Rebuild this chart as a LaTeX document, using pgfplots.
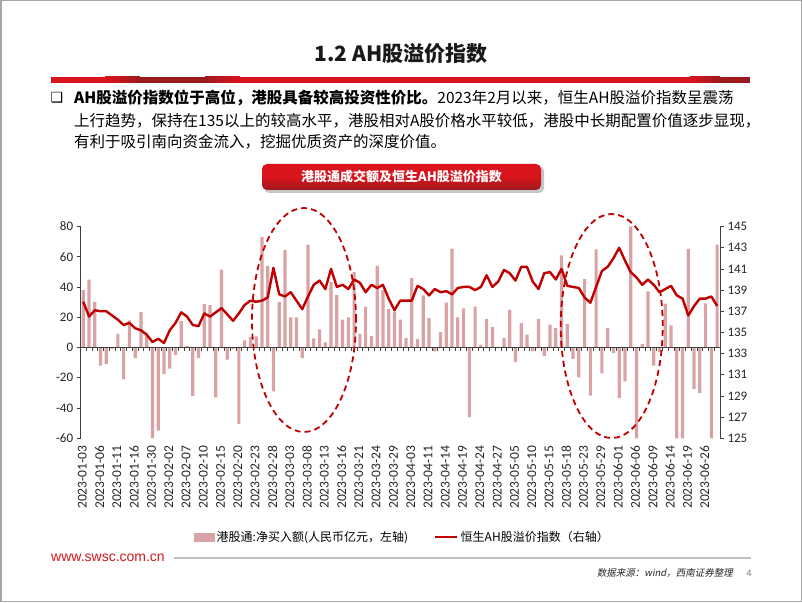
\documentclass[border=0pt]{standalone}
\usepackage{fontspec}
\usepackage{pgfplots}
\pgfplotsset{compat=1.18}
\usepackage{pgfplotstable}
\setmainfont{Carlito}
\newfontfamily\cjk{Noto Sans CJK SC}
\newfontfamily\cjkit{Noto Sans CJK SC}[FakeSlant=0.2]
\newfontfamily\dejavu{DejaVu Sans}
\newfontfamily\arial{Liberation Sans}
\definecolor{barcol}{HTML}{D9A3A6}
\definecolor{linecol}{HTML}{C00000}
\definecolor{redA}{HTML}{D9141C}
\definecolor{redD}{HTML}{9C1A1E}
\definecolor{axcol}{HTML}{404040}

\pgfplotstableread{
i bar line
0 38 137.9
1 45 136.5
2 30 137.1
3 -12 137.0
4 -11 137.0
5 -1 136.6
6 9 136.2
7 -21 135.7
8 18 135.9
9 -7 135.4
10 23.5 135.2
11 8 134.8
12 -60 134.1
13 -55 134.4
14 -17.5 134.0
15 -14 135.2
16 -5 135.9
17 17.5 136.9
18 1 136.5
19 -32 135.7
20 -7 135.6
21 28.8 136.8
22 28 136.5
23 -33 136.9
24 51.5 137.3
25 -8 136.7
26 -1 136.1
27 -50.5 136.8
28 4.8 137.6
29 7 138.0
30 7.4 137.9
31 73 138.0
32 54 138.3
33 -29 141.1
34 30 138.6
35 64.5 138.4
36 20 138.8
37 20 138.0
38 -7 137.2
39 68 138.4
40 6 139.5
41 12 139.9
42 3.5 139.1
43 43.4 141.0
44 34.6 139.3
45 18.5 139.5
46 20 139.1
47 50 140.0
48 9 139.7
49 27 138.8
50 7.5 139.5
51 54 139.2
52 38 139.5
53 25.5 138.2
54 23.8 137.1
55 18.5 138.0
56 6.2 138.0
57 46 138.0
58 5.8 139.4
59 34.5 139.1
60 19.5 138.5
61 -2.5 139.1
62 10.2 138.8
63 29.7 138.9
64 65.5 138.6
65 20 139.2
66 26 139.3
67 -46 139.3
68 27 139.0
69 2 139.3
70 19 140.4
71 13.5 139.3
72 0.5 139.8
73 6.2 140.9
74 25 140.6
75 -9.5 139.9
76 16.2 141.2
77 8.5 141.2
78 -2.3 139.8
79 19 139.1
80 -5.5 140.6
81 15.2 140.7
82 13 140.0
83 61 141.0
84 15.7 139.4
85 -7.5 139.3
86 -19.7 139.2
87 45.3 138.3
88 -31.8 137.8
89 65 139.3
90 -17 140.8
91 12.8 141.2
92 -3.7 142.0
93 -33.5 143.0
94 -22.4 141.8
95 80.2 140.7
96 -60 140.2
97 2.5 139.5
98 37.2 140.0
99 -12 139.5
100 -3 138.8
101 29 139.1
102 14.7 139.4
103 -60 138.5
104 -60 138.2
105 65.2 136.6
106 -27.5 137.5
107 -30 138.2
108 29.2 138.2
109 -60 138.4
110 68 137.5
}\datatable

\pgfplotsset{
  common/.style={
    at={(80.7pt,163.7pt)}, anchor=south west,
    scale only axis, width=639.3pt, height=211.7pt,
    xmin=-0.45, xmax=110.5,
    /pgf/number format/assume math mode=true,
    ticklabel style={font=\fontsize{13}{15}\selectfont, text=black!85},
    axis line style={axcol, line width=0.8pt},
    tick style={axcol, line width=0.8pt},
    major tick length=4pt,
  }
}

\begin{document}
\begin{tikzpicture}
\path[use as bounding box] (0pt,0pt) rectangle (802pt,602pt);
\fill[white] (0pt,0pt) rectangle (802pt,602pt);
\draw[gray!70, line width=1.5pt] (0.75pt,0.75pt) rectangle (801.25pt,601.25pt);

% title
\node[font=\cjk\bfseries\fontsize{21}{24}\selectfont, text=black!90] at (401pt,548pt) {1.2 AH股溢价指数};
% red bar
\fill[redA] (51pt,519pt) rectangle (750pt,525pt);
\shade[left color=redA, right color=redD] (105pt,519pt) rectangle (140pt,525pt);
\fill[redD] (140pt,519pt) rectangle (205pt,525pt);
\shade[left color=redD, right color=redA] (205pt,519pt) rectangle (240pt,525pt);
\shade[left color=redA, right color=redD] (690pt,519pt) rectangle (720pt,525pt);
\fill[redD] (720pt,519pt) rectangle (750pt,525pt);

% bullet text
\node[font=\dejavu\fontsize{14}{16}\selectfont, anchor=center] at (57pt,504pt) {❑};
\node[anchor=west, inner sep=0pt, font=\cjk\fontsize{15.5}{18}\selectfont] at (74pt,504pt) {{\bfseries AH股溢价指数位于高位，港股具备较高投资性价比。}2023年2月以来，恒生AH股溢价指数呈震荡};
\node[anchor=west, inner sep=0pt, font=\cjk\fontsize{15.5}{18}\selectfont] at (74pt,481pt) {上行趋势，保持在135以上的较高水平，港股相对A股价格水平较低，港股中长期配置价值逐步显现，};
\node[anchor=west, inner sep=0pt, font=\cjk\fontsize{15.5}{18}\selectfont] at (74pt,460pt) {有利于吸引南向资金流入，挖掘优质资产的深度价值。};

% chart title box
\fill[gray!45, rounded corners=5pt] (264pt,409pt) rectangle (544pt,436pt);
\shade[top color=redA, bottom color=redD, middle color=redA, rounded corners=5pt] (262pt,412pt) rectangle (541pt,438pt);
\node[font=\cjk\bfseries\fontsize{13}{15}\selectfont, text=white] at (401.5pt,425pt) {港股通成交额及恒生AH股溢价指数};

% bars axis
\begin{axis}[common,
  ymin=-60, ymax=80, ytick={-60,-40,...,80},
  axis y line*=left, axis x line*=bottom,
  x axis line style={draw=none},
  xtick={0,3,...,108},
  xtick style={draw=none},
  xticklabels={2023-01-03,2023-01-06,2023-01-11,2023-01-16,2023-01-30,2023-02-02,2023-02-07,2023-02-10,2023-02-15,2023-02-20,2023-02-23,2023-02-28,2023-03-03,2023-03-08,2023-03-13,2023-03-16,2023-03-21,2023-03-24,2023-03-29,2023-04-03,2023-04-11,2023-04-14,2023-04-19,2023-04-24,2023-04-27,2023-05-05,2023-05-10,2023-05-15,2023-05-18,2023-05-23,2023-05-29,2023-06-01,2023-06-06,2023-06-09,2023-06-14,2023-06-19,2023-06-26},
  xticklabel style={rotate=90, anchor=east, font=\fontsize{13.5}{15}\selectfont, yshift=1pt},
  ytick align=outside,
  ybar, bar width=3.2pt,
]
\addplot[fill=barcol, draw=none] table[x=i, y=bar] {\datatable};
\end{axis}

% zero line axis
\begin{axis}[common,
  ymin=-60, ymax=80,
  axis y line=none, axis x line=middle,
  x axis line style={-},
  xtick={0.5,1.5,...,109.5}, xticklabels={},
  xtick align=outside, major tick length=3pt,
  ytick=\empty,
]
\end{axis}

% line axis
\begin{axis}[common,
  ymin=125, ymax=145, ytick={125,127,...,145},
  axis y line*=right, axis x line=none,
  ytick align=outside,
  legend style={at={(0.5034,-0.466)}, anchor=center, draw=none, fill=none,
    legend columns=2, font=\cjk\fontsize{12}{14}\selectfont,
    nodes={inner sep=2pt},
    /tikz/every even column/.append style={column sep=24pt}},
]
\addlegendimage{legend image code/.code={\fill[barcol] (0pt,-4pt) rectangle (20pt,4pt);}}
\addlegendentry{港股通:净买入额(人民币亿元，左轴)}
\addplot[linecol, line width=2.4pt, line join=round, mark=none,
  legend image code/.code={\draw[linecol, line width=2.6pt] (0pt,0pt) -- (22pt,0pt);}]
  table[x=i, y=line] {\datatable};
\addlegendentry{恒生AH股溢价指数（右轴）}
\end{axis}

% dashed ellipses
\draw[linecol, line width=1.8pt, dash pattern=on 6pt off 4pt] (304pt,282pt) ellipse [x radius=52pt, y radius=112pt];
\draw[linecol, line width=1.8pt, dash pattern=on 6pt off 4pt] (611.7pt,276pt) ellipse [x radius=51pt, y radius=112pt];

% footer
\node[anchor=west, inner sep=0pt, font=\arial\fontsize{14}{16}\selectfont, text=redA] at (51pt,44pt) {www.swsc.com.cn};
\draw[gray!50, line width=1.5pt] (174pt,44pt) -- (751pt,44pt);
\node[anchor=east, inner sep=0pt, font=\cjkit\fontsize{9.5}{11}\selectfont, text=black!85] at (733pt,29pt) {数据来源：wind，西南证券整理};
\node[anchor=center, inner sep=0pt, font=\arial\fontsize{9.5}{11}\selectfont, text=gray] at (749pt,29pt) {4};
\end{tikzpicture}
\end{document}
